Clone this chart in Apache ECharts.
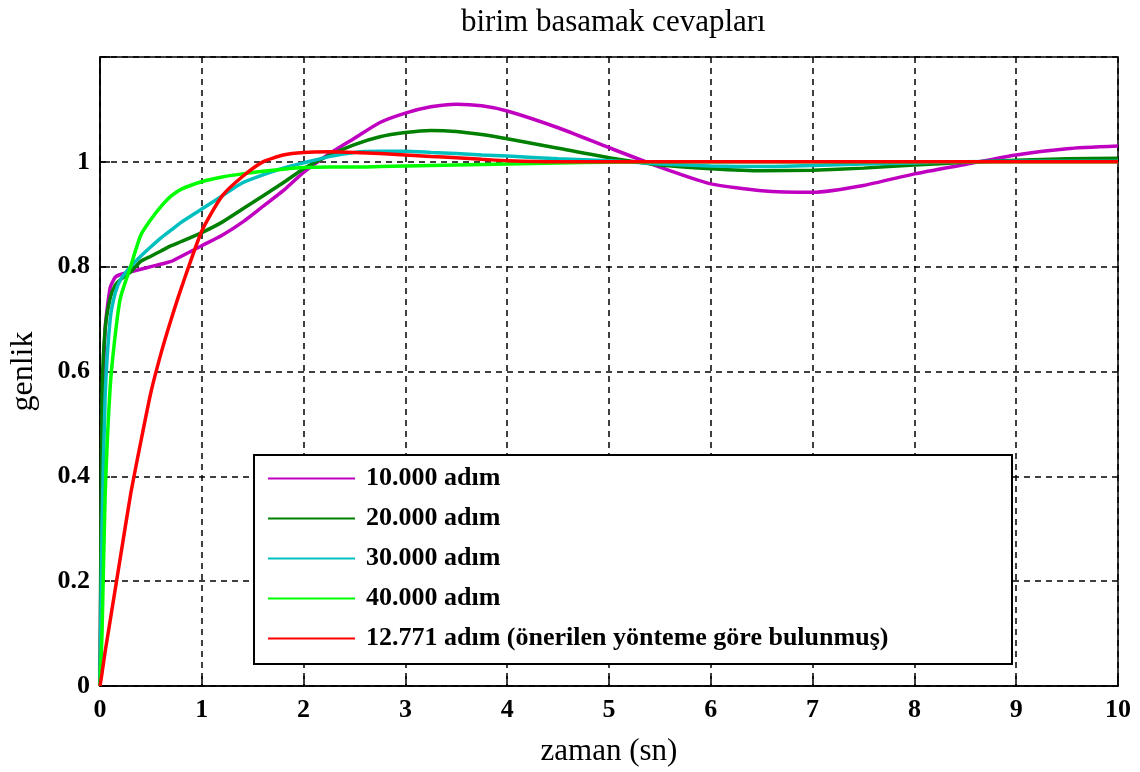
<!DOCTYPE html>
<html>
<head>
<meta charset="utf-8">
<title>birim basamak cevapları</title>
<script src="https://cdn.jsdelivr.net/npm/echarts@6/dist/echarts.min.js"></script>
<style>
  html, body { margin: 0; padding: 0; background: #fff; }
  #main { width: 1140px; height: 772px; }
</style>
</head>
<body>
<div id="main"></div>
<script>
// zaman ekseni (sn)
var zaman = [0, 0.02, 0.05, 0.1, 0.15, 0.2, 0.3, 0.4, 0.5, 0.6, 0.7, 0.8, 1.0, 1.2, 1.4, 1.6, 1.8, 2.0,
  2.25, 2.5, 2.75, 3.0, 3.25, 3.5, 3.75, 4.0, 4.5, 5.0, 5.5, 6.0, 6.5, 7.0, 7.5, 8.0, 8.5, 9.0, 9.5, 10.0];

// basamak cevaplari
var adim10000 = [0, 0.45, 0.68, 0.76, 0.78, 0.785, 0.79, 0.795, 0.80, 0.805, 0.81, 0.82, 0.84, 0.86, 0.885, 0.915, 0.945, 0.98,
  1.015, 1.045, 1.075, 1.093, 1.105, 1.11, 1.107, 1.097, 1.065, 1.027, 0.99, 0.958, 0.945, 0.942, 0.955, 0.977, 0.995, 1.013, 1.025, 1.03];
var adim20000 = [0, 0.55, 0.68, 0.74, 0.765, 0.775, 0.79, 0.81, 0.82, 0.83, 0.84, 0.848, 0.865, 0.885, 0.91, 0.935, 0.96, 0.987,
  1.012, 1.033, 1.048, 1.056, 1.06, 1.058, 1.052, 1.044, 1.026, 1.008, 0.994, 0.987, 0.983, 0.984, 0.988, 0.994, 0.999, 1.003, 1.006, 1.007];
var adim30000 = [0, 0.3, 0.55, 0.70, 0.75, 0.775, 0.80, 0.82, 0.838, 0.855, 0.87, 0.885, 0.91, 0.935, 0.96, 0.975, 0.988, 0.998,
  1.01, 1.018, 1.02, 1.02, 1.018, 1.016, 1.013, 1.011, 1.006, 1.002, 0.996, 0.992, 0.991, 0.993, 0.996, 0.998, 1.0, 1.001, 1.001, 1.001];
var adim40000 = [0, 0.1, 0.36, 0.57, 0.67, 0.74, 0.80, 0.86, 0.89, 0.915, 0.935, 0.948, 0.962, 0.971, 0.977, 0.982, 0.986, 0.989,
  0.99, 0.99, 0.991, 0.992, 0.993, 0.994, 0.995, 0.996, 0.998, 0.999, 1.0, 1.0, 1.0, 1.0, 1.0, 1.0, 1.0, 1.0, 1.0, 1.0];
var adim12771 = [0, 0.025, 0.065, 0.125, 0.185, 0.245, 0.365, 0.465, 0.56, 0.635, 0.70, 0.76, 0.868, 0.935, 0.972, 1.0, 1.013, 1.018,
  1.019, 1.018, 1.016, 1.013, 1.01, 1.008, 1.005, 1.002, 1.0, 1.0, 1.0, 1.0, 1.0, 1.0, 1.0, 1.0, 1.0, 1.0, 1.0, 1.0];

var seriNames = ['10.000 adım', '20.000 adım', '30.000 adım', '40.000 adım', '12.771 adım (önerilen yönteme göre bulunmuş)'];
var seriColors = ['#c000c0', '#008000', '#00bfbf', '#00ff00', '#ff0000'];
var seriData = [adim10000, adim20000, adim30000, adim40000, adim12771];

var xTicks = [0, 1, 2, 3, 4, 5, 6, 7, 8, 9, 10];
var yTicks = [0, 0.2, 0.4, 0.6, 0.8, 1];

function pairs(vals) {
  var out = [];
  for (var i = 0; i < zaman.length; i++) {
    out.push([zaman[i], vals[i]]);
  }
  return out;
}

var font = '"Liberation Serif", "Times New Roman", serif';

var series = [];
for (var i = 0; i < seriNames.length; i++) {
  series.push({
    name: seriNames[i],
    type: 'line',
    data: pairs(seriData[i]),
    symbol: 'none',
    smooth: 0.2,
    z: 2 + i,
    lineStyle: { color: seriColors[i], width: 3.5 },
    itemStyle: { color: seriColors[i] }
  });
}

var myChart = echarts.init(document.getElementById('main'));
var option = {
  backgroundColor: '#fff',
  animation: false,
  title: {
    text: 'birim basamak cevapları',
    left: 456,
    top: 2,
    textStyle: { fontFamily: font, fontSize: 31, fontWeight: 'normal', color: '#000' }
  },
  grid: {
    left: 100, right: 22, top: 57, bottom: 86,
    outerBoundsMode: 'none',
    show: true, borderColor: '#000', borderWidth: 1.5
  },
  xAxis: {
    type: 'value',
    min: 0, max: 10, interval: 1,
    name: 'zaman (sn)',
    nameLocation: 'middle',
    nameGap: 50,
    nameTextStyle: { fontFamily: font, fontSize: 31, color: '#000' },
    axisLine: { show: true, lineStyle: { color: '#000', width: 1.5 } },
    axisTick: { show: true, inside: true, length: 10, lineStyle: { color: '#000', width: 1.5 } },
    axisLabel: {
      margin: 11, color: '#000', fontFamily: font, fontSize: 26, fontWeight: 'bold',
      formatter: function (v) { return xTicks.indexOf(v) >= 0 ? String(v) : ''; }
    },
    splitLine: { show: true, lineStyle: { color: '#000', width: 1.5, type: [6, 5] } }
  },
  yAxis: {
    type: 'value',
    min: 0, max: 1.2, interval: 0.2,
    name: 'genlik',
    nameLocation: 'middle',
    nameGap: 60,
    nameRotate: 90,
    nameTextStyle: { fontFamily: font, fontSize: 32, color: '#000' },
    axisLine: { show: true, lineStyle: { color: '#000', width: 1.5 } },
    axisTick: { show: true, inside: true, length: 10, lineStyle: { color: '#000', width: 1.5 } },
    axisLabel: {
      margin: 10, color: '#000', fontFamily: font, fontSize: 26, fontWeight: 'bold',
      formatter: function (v) {
        var r = Math.round(v * 10) / 10;
        return yTicks.indexOf(r) >= 0 ? String(r) : '';
      }
    },
    splitLine: { show: true, lineStyle: { color: '#000', width: 1.5, type: [6, 5] } }
  },
  graphic: [{
    type: 'rect',
    z: 3,
    shape: { x: 254, y: 455, width: 758, height: 209 },
    style: { fill: '#fff', stroke: '#000', lineWidth: 2 }
  }],
  legend: {
    orient: 'vertical',
    left: 268,
    top: 465,
    padding: 0,
    z: 10,
    icon: 'rect',
    itemWidth: 87,
    itemHeight: 2,
    itemGap: 13,
    data: seriNames,
    textStyle: { fontFamily: font, fontSize: 26, fontWeight: 'bold', color: '#000', lineHeight: 27, padding: [0, 0, 0, 6] }
  },
  series: series
};
myChart.setOption(option);
</script>
</body>
</html>
